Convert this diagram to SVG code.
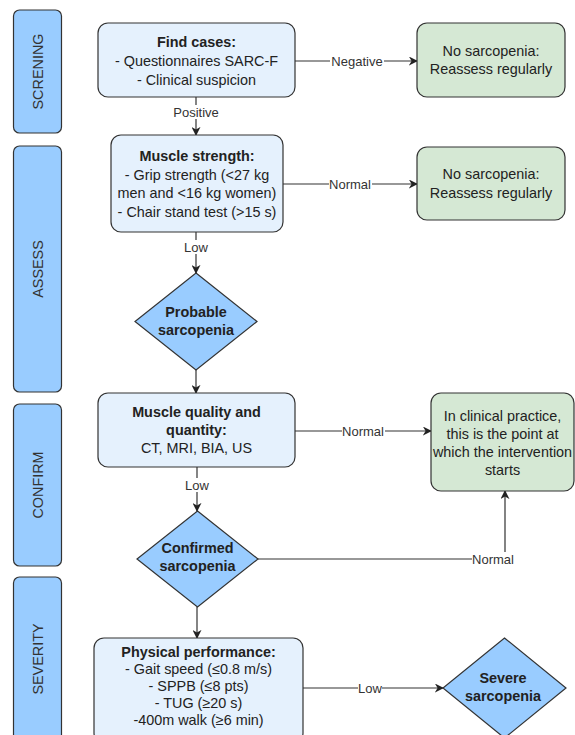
<svg xmlns="http://www.w3.org/2000/svg" width="575" height="735" viewBox="0 0 575 735">
<defs>
<marker id="arr" viewBox="0 0 10 10" refX="9" refY="5" markerWidth="9" markerHeight="9" markerUnits="userSpaceOnUse" orient="auto">
<path d="M0,0 L10,5 L0,10 L3,5 Z" fill="#222"/>
</marker>
<style>
text{font-family:"Liberation Sans",Arial,sans-serif;fill:#222;}
.t{font-size:14.4px;text-anchor:middle;}
.b{font-weight:bold;}
.lbl{font-size:13px;text-anchor:middle;fill:#333;}
.lane{fill:#99CCFF;stroke:#333;stroke-width:1.2;}
.lanet{font-size:14.4px;text-anchor:middle;dominant-baseline:central;fill:#333;}
.box{fill:#E5F1FD;stroke:#333;stroke-width:1.2;}
.grn{fill:#D5E8D4;stroke:#333;stroke-width:1.2;}
.dia{fill:#99CCFF;stroke:#333;stroke-width:1.2;}
.ln{fill:none;stroke:#333;stroke-width:1.2;}
.lb{fill:#fff;}
</style>
</defs>
<rect width="575" height="735" fill="#fff"/>

<g id="lane-screening"><rect class="lane" x="13.5" y="10" width="48" height="123" rx="6"/><text class="lanet" transform="translate(37.5,71.5) rotate(-90)">SCRENING</text></g>
<g id="lane-assess"><rect class="lane" x="13.5" y="146" width="48" height="246" rx="6"/><text class="lanet" transform="translate(37.5,269) rotate(-90)">ASSESS</text></g>
<g id="lane-confirm"><rect class="lane" x="13.5" y="404" width="48" height="162" rx="6"/><text class="lanet" transform="translate(37.5,485) rotate(-90)">CONFIRM</text></g>
<g id="lane-severity"><rect class="lane" x="13.5" y="577" width="48" height="170" rx="6"/><text class="lanet" transform="translate(37.5,659) rotate(-90)">SEVERITY</text></g>

<g id="connectors">
<line class="ln" x1="295" y1="61" x2="417" y2="61" marker-end="url(#arr)"/>
<line class="ln" x1="196" y1="97" x2="196" y2="135" marker-end="url(#arr)"/>
<line class="ln" x1="283" y1="184" x2="417" y2="184" marker-end="url(#arr)"/>
<line class="ln" x1="196" y1="232" x2="196" y2="273" marker-end="url(#arr)"/>
<line class="ln" x1="196" y1="370" x2="196" y2="393" marker-end="url(#arr)"/>
<line class="ln" x1="295" y1="431" x2="431" y2="431" marker-end="url(#arr)"/>
<line class="ln" x1="197" y1="467" x2="197" y2="511" marker-end="url(#arr)"/>
<polyline class="ln" points="258,559 505,559 505,491" marker-end="url(#arr)"/>
<line class="ln" x1="197" y1="607" x2="197" y2="638" marker-end="url(#arr)"/>
<line class="ln" x1="303" y1="688" x2="443" y2="688" marker-end="url(#arr)"/>
<rect class="lb" x="330" y="54" width="54" height="14"/><text class="lbl" x="357" y="65.5">Negative</text>
<rect class="lb" x="172" y="105" width="48" height="14"/><text class="lbl" x="196" y="116.5">Positive</text>
<rect class="lb" x="329" y="177" width="43" height="14"/><text class="lbl" x="350" y="188.5">Normal</text>
<rect class="lb" x="184" y="240" width="24" height="14"/><text class="lbl" x="196" y="251.5">Low</text>
<rect class="lb" x="342" y="424" width="43" height="14"/><text class="lbl" x="363" y="435.5">Normal</text>
<rect class="lb" x="185" y="478" width="24" height="14"/><text class="lbl" x="197" y="489.5">Low</text>
<rect class="lb" x="472" y="552" width="43" height="14"/><text class="lbl" x="493" y="563.5">Normal</text>
<rect class="lb" x="358" y="681" width="24" height="14"/><text class="lbl" x="370" y="692.5">Low</text>
</g>

<g id="find-cases"><rect class="box" x="98" y="23" width="197" height="74" rx="10"/>
<text class="t" x="196.5" y="47"><tspan class="b">Find cases:</tspan><tspan x="196.5" y="66">- Questionnaires SARC-F</tspan><tspan x="196.5" y="85">- Clinical suspicion</tspan></text></g>

<g id="no-sarc-1"><rect class="grn" x="417" y="23" width="148" height="74" rx="10"/>
<text class="t" x="491" y="55.5">No sarcopenia:<tspan x="491" y="74">Reassess regularly</tspan></text></g>

<g id="muscle-strength"><rect class="box" x="111" y="135" width="172" height="97" rx="10"/>
<text class="t" x="197" y="161"><tspan class="b">Muscle strength:</tspan><tspan x="197" y="179.5">- Grip strength (&lt;27 kg</tspan><tspan x="197" y="198">men and &lt;16 kg women)</tspan><tspan x="197" y="216.5">- Chair stand test (&gt;15 s)</tspan></text></g>

<g id="no-sarc-2"><rect class="grn" x="417" y="147" width="148" height="73" rx="10"/>
<text class="t" x="491" y="179">No sarcopenia:<tspan x="491" y="197.5">Reassess regularly</tspan></text></g>

<g id="probable"><polygon class="dia" points="196,273 257,321.5 196,370 135,321.5"/>
<text class="t b" x="196" y="316.5">Probable<tspan x="196" y="334.5">sarcopenia</tspan></text></g>

<g id="muscle-quality"><rect class="box" x="98" y="393" width="197" height="74" rx="10"/>
<text class="t" x="196.5" y="417"><tspan class="b">Muscle quality and</tspan><tspan class="b" x="196.5" y="435">quantity:</tspan><tspan x="196.5" y="453">CT, MRI, BIA, US</tspan></text></g>

<g id="intervention"><rect class="grn" x="431" y="393" width="143" height="98" rx="10"/>
<text class="t" x="502.5" y="421">In clinical practice,<tspan x="502.5" y="439">this is the point at</tspan><tspan x="502.5" y="457">which the intervention</tspan><tspan x="502.5" y="475">starts</tspan></text></g>

<g id="confirmed"><polygon class="dia" points="197.5,511 258,559 197.5,607 137,559"/>
<text class="t b" x="197.5" y="553">Confirmed<tspan x="197.5" y="571">sarcopenia</tspan></text></g>

<g id="physical"><rect class="box" x="94" y="638" width="209" height="105" rx="10"/>
<text class="t" x="198.5" y="656.5"><tspan class="b">Physical performance:</tspan><tspan x="198.5" y="673.5">- Gait speed (≤0.8 m/s)</tspan><tspan x="198.5" y="690.5">- SPPB (≤8 pts)</tspan><tspan x="198.5" y="707.5">- TUG (≥20 s)</tspan><tspan x="198.5" y="724.5">-400m walk (≥6 min)</tspan></text></g>

<g id="severe"><polygon class="dia" points="504.5,638 566,688 504.5,738 443,688"/>
<text class="t b" x="503" y="683">Severe<tspan x="503" y="701">sarcopenia</tspan></text></g>
</svg>
